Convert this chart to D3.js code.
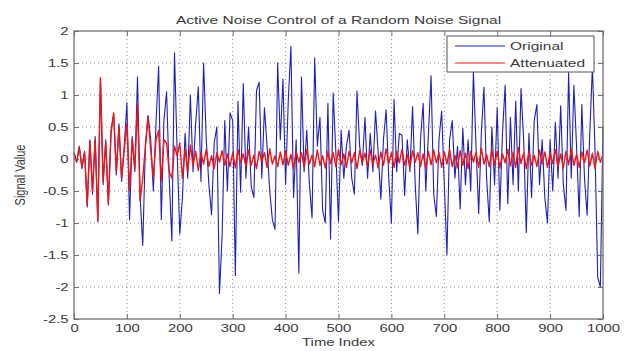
<!DOCTYPE html>
<html>
<head>
<meta charset="utf-8">
<script src="https://cdn.jsdelivr.net/npm/d3@7/dist/d3.min.js"></script>
<style>
  body { margin: 0; background: #fff; }
  text { font-family: "Liberation Sans", Arial, sans-serif; fill: #3a3a3a; }
</style>
</head>
<body>
<svg width="630" height="351"></svg>
<script>

// Time index of every sample (one value every 5 steps)
var timeIndex = d3.range(0, 1001, 5);

// Original noise signal
var original = [
  0.1, -0.05, 0.2, -0.15, 0.12, -0.75, 0.3, -0.55, 0.35, -0.98, 1.25, -0.4, 0.3, -0.72, 0.45, 0.7, -0.25, 0.55, -0.35, 0.2,
  0.88, -0.95, 0.35, -0.2, 1.28, -0.6, -1.35, 0.2, 0.68, 0.3, -0.5, 0.55, 1.45, -0.95, 0.6, 1.05, -0.3, -1.28, 1.66, 0.1,
  -1.17, -0.6, 0.4, -0.3, 1.0, -0.2, 0.55, 1.13, -0.35, 1.5, 0.3, -0.4, -0.87, 0.25, 0.5, -2.1, -1.2, 0.6, -0.5, 0.72,
  0.6, -1.82, 0.9, -0.52, 1.18, -0.3, 0.5, -0.43, -0.6, 1.07, 1.2, -0.3, 0.8, 0.2, -0.5, -0.95, -1.1, 1.5, 0.3, 1.25,
  -0.4, 0.9, 1.76, -0.6, 0.3, -1.78, 1.28, -0.2, 0.45, -0.4, -0.92, 1.58, 0.2, 0.65, -0.8, -1.0, 0.87, -1.25, 1.03, 0.1,
  -0.98, 0.45, -0.3, 0.2, 0.45, -0.3, -0.55, 1.06, 0.2, -0.1, 0.65, -0.3, 0.4, -0.2, 0.75, 0.1, -0.63, 0.3, 0.77, -0.3,
  -1.0, 0.93, -0.2, 0.4, 0.37, -0.57, 0.3, -0.2, 0.82, -0.4, -1.17, 0.3, 0.87, -0.5, 0.4, 1.3, -0.55, -0.9, 0.3, 0.75,
  -0.4, -1.5, 0.3, 0.6, -0.3, 0.2, -0.78, 0.48, -0.4, 0.3, -0.5, 1.37, 0.2, -0.85, 0.4, 1.12, -0.3, -0.98, 0.5, -0.4,
  0.8, -0.8, 0.4, 1.15, -0.7, 0.65, -0.4, 0.9, -0.5, 1.1, 0.3, -1.15, 0.4, -0.6, 0.6, 0.85, -0.4, 0.3, -0.6, -1.0,
  0.3, -0.5, 0.57, -0.3, 0.83, -0.4, -0.8, 1.35, -0.3, 1.15, 0.2, -0.9, 0.85, -0.3, -0.88, 0.4, 1.45, 0.1, -1.85, -2.0,
  0.5
];

// Attenuated signal
var attenuated = [
  0.1, -0.05, 0.18, -0.12, 0.1, -0.72, 0.28, -0.5, 0.3, -0.96, 1.27, -0.35, 0.25, -0.7, 0.4, 0.72, -0.2, 0.5, -0.3, 0.15,
  0.55, -0.5, 0.3, -0.15, 0.85, -0.65, -0.3, 0.2, 0.67, 0.15, -0.3, 0.3, 0.45, -0.35, 0.3, 0.25, -0.2, -0.3, 0.2, 0.05,
  0.25, -0.3, 0.15, -0.2, 0.22, -0.1, 0.12, -0.18, 0.1, -0.08, 0.15, -0.12, 0.05, -0.15, 0.1, -0.05, 0.13, -0.1, 0.08, -0.12,
  0.1, -0.14, 0.15, -0.06, 0.08, -0.12, 0.14, -0.1, 0.06, -0.15, 0.12, -0.04, 0.1, -0.13, 0.16, -0.08, 0.05, -0.12, 0.11, -0.09,
  0.13, -0.1, 0.07, -0.15, 0.12, -0.05, 0.1, -0.13, 0.15, -0.08, 0.06, -0.12, 0.14, -0.1, 0.05, -0.14, 0.12, -0.07, 0.1, -0.12,
  0.15, -0.09, 0.08, -0.13, 0.12, -0.06, 0.1, -0.15, 0.13, -0.05, 0.09, -0.12, 0.14, -0.08, 0.06, -0.14, 0.11, -0.1, 0.16, -0.07,
  0.1, -0.13, 0.12, -0.06, 0.15, -0.1, 0.07, -0.14, 0.13, -0.05, 0.1, -0.12, 0.08, -0.15, 0.12, -0.09, 0.14, -0.06, 0.1, -0.13,
  0.11, -0.08, 0.15, -0.12, 0.06, -0.14, 0.13, -0.1, 0.09, -0.15, 0.12, -0.05, 0.1, -0.13, 0.17, -0.08, 0.07, -0.12, 0.14, -0.1,
  0.12, -0.14, 0.08, -0.06, 0.15, -0.11, 0.1, -0.13, 0.18, -0.07, 0.09, -0.15, 0.12, -0.1, 0.06, -0.12, 0.14, -0.08, 0.11, -0.13,
  0.1, -0.07, 0.15, -0.12, 0.08, -0.14, 0.12, -0.09, 0.16, -0.1, 0.07, -0.13, 0.11, -0.06, 0.14, -0.11, 0.09, -0.15, 0.12, -0.05,
  0.08
];

// Tick values
var xTicks = [0, 100, 200, 300, 400, 500, 600, 700, 800, 900, 1000];
var yTicks = [2, 1.5, 1, 0.5, 0, -0.5, -1, -1.5, -2, -2.5];

// Legend
var seriesNames = ['Original', 'Attenuated'];
var seriesColors = ['#1f1fbb', '#f01414'];

var svg = d3.select('svg');
var plotLeft = 74, plotRight = 603, plotTop = 31, plotBottom = 319;
// the picture's text looks stretched sideways
var stretch = 'scale(1.35,1)';

var x = d3.scaleLinear().domain([0, 1000]).range([plotLeft, plotRight]);
var y = d3.scaleLinear().domain([-2.5, 2]).range([plotBottom, plotTop]);

// dotted grid
svg.append('g').selectAll('line').data(xTicks.slice(1, -1)).enter().append('line')
    .attr('x1', d => x(d)).attr('x2', d => x(d))
    .attr('y1', plotTop).attr('y2', plotBottom)
    .attr('stroke', '#8a8a8a').attr('stroke-dasharray', '1,3');
svg.append('g').selectAll('line').data(yTicks.slice(1, -1)).enter().append('line')
    .attr('y1', d => y(d)).attr('y2', d => y(d))
    .attr('x1', plotLeft).attr('x2', plotRight)
    .attr('stroke', '#8a8a8a').attr('stroke-dasharray', '1,3');

// signal lines
var line = d3.line().x((d, i) => x(timeIndex[i])).y(d => y(d));
[original, attenuated].forEach((s, k) => {
  svg.append('path')
      .attr('d', line(s))
      .attr('fill', 'none')
      .attr('stroke', seriesColors[k])
      .attr('stroke-width', k == 0 ? 1.1 : 1.4)
      .attr('stroke-linejoin', 'round');
});

// axes, ticks inside (matlab style), on all four sides
var axisColor = '#707070';
function styleAxis(g) {
  g.select('.domain').remove();
  g.selectAll('.tick line').attr('stroke', axisColor);
  g.selectAll('.tick text')
      .style('font-size', '11px')
      .attr('fill', '#3a3a3a')
      .attr('transform', stretch);
}
svg.append('g').attr('transform', `translate(0,${plotBottom})`)
    .call(d3.axisBottom(x).tickValues(xTicks).tickSize(-5).tickPadding(5).tickFormat(d => String(d)))
    .call(styleAxis);
svg.append('g').attr('transform', `translate(0,${plotTop})`)
    .call(d3.axisTop(x).tickValues(xTicks).tickSize(-5).tickFormat(''))
    .call(styleAxis);
svg.append('g').attr('transform', `translate(${plotLeft},0)`)
    .call(d3.axisLeft(y).tickValues(yTicks).tickSize(-5).tickPadding(4).tickFormat(d => String(d)))
    .call(styleAxis);
svg.append('g').attr('transform', `translate(${plotRight},0)`)
    .call(d3.axisRight(y).tickValues(yTicks).tickSize(-5).tickFormat(''))
    .call(styleAxis);

svg.append('rect')
    .attr('x', plotLeft).attr('y', plotTop)
    .attr('width', plotRight - plotLeft).attr('height', plotBottom - plotTop)
    .attr('fill', 'none').attr('stroke', axisColor).attr('stroke-width', 1.3);

// titles
svg.append('text')
    .attr('transform', `translate(${(plotLeft + plotRight) / 2},24) ${stretch}`)
    .attr('text-anchor', 'middle').style('font-size', '11.5px')
    .text('Active Noise Control of a Random Noise Signal');
svg.append('text')
    .attr('transform', `translate(${(plotLeft + plotRight) / 2},346) ${stretch}`)
    .attr('text-anchor', 'middle').style('font-size', '11px')
    .text('Time Index');
svg.append('text')
    .attr('transform', `translate(25,${(plotTop + plotBottom) / 2}) ${stretch} rotate(-90)`)
    .attr('text-anchor', 'middle').style('font-size', '11px')
    .text('Signal Value');

// legend
var legend = svg.append('g');
legend.append('rect')
    .attr('x', 447).attr('y', 36).attr('width', 147).attr('height', 36)
    .attr('fill', '#fff').attr('stroke', '#555');
seriesNames.forEach((name, k) => {
  var ly = 46 + k * 17;
  legend.append('line')
      .attr('x1', 455).attr('x2', 505).attr('y1', ly).attr('y2', ly)
      .attr('stroke', seriesColors[k]);
  legend.append('text')
      .attr('transform', `translate(510,${ly + 4}) ${stretch}`)
      .style('font-size', '11.5px')
      .text(name);
});
</script>
</body>
</html>
